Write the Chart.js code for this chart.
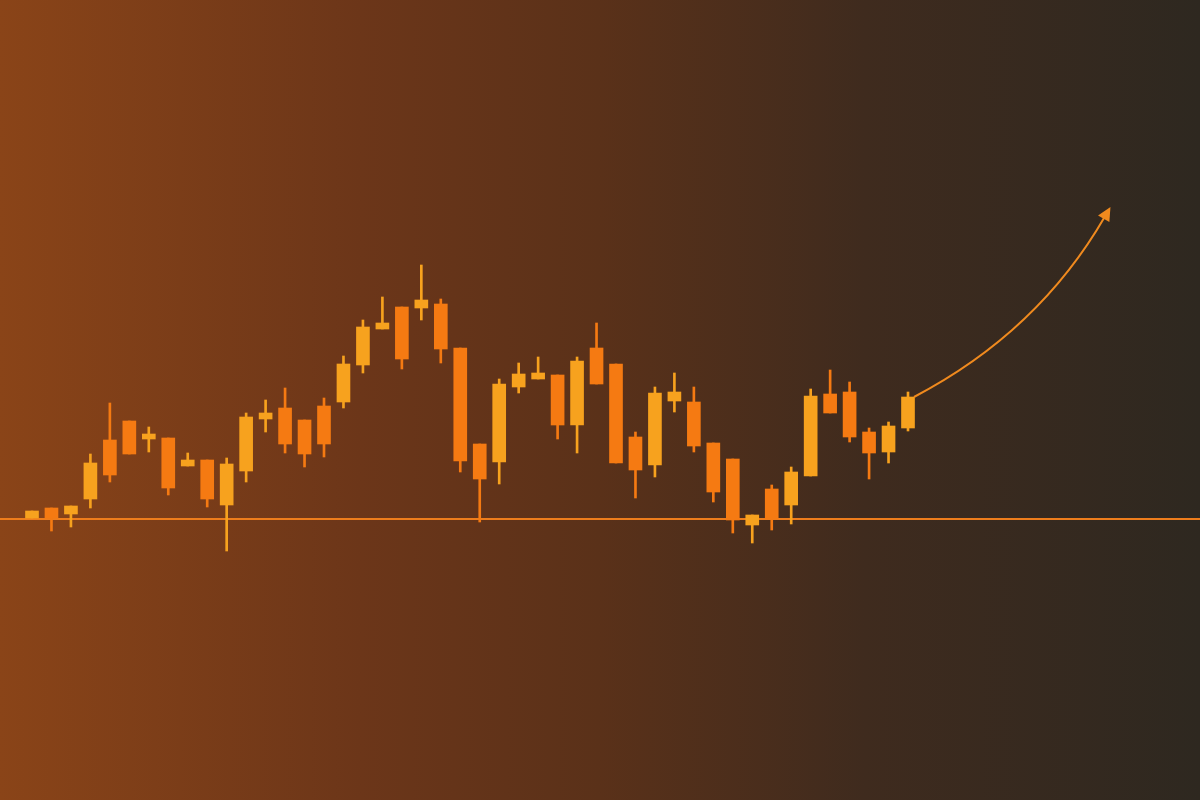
<!DOCTYPE html>
<html>
<head>
<meta charset="utf-8">
<script src="https://cdn.jsdelivr.net/npm/chart.js@4.4.1/dist/chart.umd.min.js"></script>
<style>
  html, body { margin: 0; padding: 0; background: #2e2820; }
  #wrap { width: 1200px; height: 800px; }
</style>
</head>
<body>
<div id="wrap"><canvas id="c" width="1200" height="800"></canvas></div>
<script>
// OHLC series
const opens  = [70.5, 73, 71.5, 75.25, 90, 94.75, 90.25, 90.5, 83.5, 85, 73.75, 82.25, 95.25, 98, 95, 98.5, 99.5, 108.75, 117.75, 123.25, 123, 124, 113, 89, 84.5, 103.25, 105.25, 106.25, 93.75, 113, 109, 90.75, 83.75, 99.75, 99.5, 89.25, 85.25, 68.75, 77.75, 73.75, 81, 101.5, 102, 92, 87, 93];
const closes = [72.25, 70.5, 73.5, 84.25, 81.25, 86.5, 91.5, 78, 85, 75.25, 84, 95.75, 96.75, 89, 86.5, 89, 109, 118.25, 119.25, 110.25, 125, 112.75, 84.75, 80.25, 104, 106.5, 106.75, 93.75, 109.75, 104, 84.25, 82.5, 101.75, 102, 88.5, 77, 70, 71.25, 70.25, 82, 101, 96.75, 90.75, 86.75, 93.5, 100.75];
const highs  = [72.25, 73, 73.5, 86.5, 99.25, 94.75, 93.25, 90.5, 86.75, 85, 85.5, 96.75, 100, 103, 95, 100.5, 111, 120, 125.75, 123.25, 133.75, 125.25, 113, 89, 105.25, 109.25, 110.75, 106.25, 110.75, 119.25, 109, 92, 103.25, 106.75, 103.25, 89.25, 85.25, 71.25, 78.75, 83.25, 102.75, 107.5, 104.5, 93, 94.5, 102];
const lows   = [70.5, 67.25, 68.25, 73, 79.5, 86.5, 87, 76.25, 83.5, 73.25, 62.25, 79.5, 92, 86.75, 83.25, 85.75, 98, 106.75, 117.75, 107.75, 120, 109.25, 82, 69.5, 79, 101.75, 105.25, 90.25, 86.75, 104, 84.25, 75.5, 80.75, 97, 87, 74.5, 66.75, 64.25, 67.5, 69, 81, 96.75, 89.5, 80.25, 84.25, 92.25];

// support level and the projected trend arrow (data space: [index, price])
const supportLevel = 70.25;
const arrowControl = [51.7, 117];
const arrowTarget = [55.4, 148.25];

const UP = '#f7a21e';
const DOWN = '#f57a12';

const idx = opens.map((_, i) => i);
const colors = idx.map(i => closes[i] >= opens[i] ? UP : DOWN);
const bodies = idx.map(i => ({ x: i, y: [opens[i], closes[i]] }));
const wicks = idx.map(i => ({ x: i, y: [lows[i], highs[i]] }));

const xMin = -1.644, xMax = 60;

const bgPlugin = {
  id: 'bg',
  beforeDraw(chart) {
    const { ctx, width, height } = chart;
    const g = ctx.createLinearGradient(0, 0, width, 0);
    g.addColorStop(0, '#8a4418');
    g.addColorStop(0.3, '#6c3619');
    g.addColorStop(0.5, '#5a3119');
    g.addColorStop(0.72, '#3f2b1e');
    g.addColorStop(1, '#2e2820');
    ctx.save();
    ctx.fillStyle = g;
    ctx.fillRect(0, 0, width, height);
    ctx.restore();
  }
};

const arrowPlugin = {
  id: 'arrow',
  afterDatasetsDraw(chart) {
    const { ctx, scales: { x, y } } = chart;
    const last = opens.length - 1;
    const x0 = x.getPixelForValue(last) + 6, y0 = y.getPixelForValue(closes[last]);
    const cx = x.getPixelForValue(arrowControl[0]), cy = y.getPixelForValue(arrowControl[1]);
    const x1 = x.getPixelForValue(arrowTarget[0]), y1 = y.getPixelForValue(arrowTarget[1]);
    ctx.save();
    ctx.strokeStyle = '#f08a1e';
    ctx.fillStyle = '#f08a1e';
    ctx.lineWidth = 2;
    const ang = Math.atan2(y1 - cy, x1 - cx);
    const headLen = 15;
    const ex = x1 - Math.cos(ang) * headLen * 0.7, ey = y1 - Math.sin(ang) * headLen * 0.7;
    ctx.beginPath();
    ctx.moveTo(x0, y0);
    ctx.quadraticCurveTo(cx, cy, ex, ey);
    ctx.stroke();
    ctx.beginPath();
    ctx.moveTo(x1, y1);
    ctx.lineTo(x1 - headLen * Math.cos(ang - 0.45), y1 - headLen * Math.sin(ang - 0.45));
    ctx.lineTo(x1 - headLen * Math.cos(ang + 0.45), y1 - headLen * Math.sin(ang + 0.45));
    ctx.closePath();
    ctx.fill();
    ctx.restore();
  }
};

new Chart(document.getElementById('c'), {
  type: 'bar',
  data: {
    datasets: [
      {
        type: 'line',
        data: [{ x: xMin, y: supportLevel }, { x: xMax, y: supportLevel }],
        borderColor: '#ee7d1c',
        borderWidth: 2,
        pointRadius: 0,
        order: 3
      },
      {
        data: wicks,
        backgroundColor: colors,
        borderWidth: 0,
        barThickness: 2,
        grouped: false,
        order: 2
      },
      {
        data: bodies,
        backgroundColor: colors,
        borderWidth: 0,
        barThickness: 13,
        grouped: false,
        order: 1
      }
    ]
  },
  options: {
    responsive: false,
    animation: false,
    layout: { padding: 0 },
    plugins: { legend: { display: false }, tooltip: { enabled: false } },
    scales: {
      x: { type: 'linear', min: xMin, max: xMax, offset: false, display: false },
      y: { type: 'linear', min: 0, max: 200, display: false }
    }
  },
  plugins: [bgPlugin, arrowPlugin]
});
</script>
</body>
</html>
